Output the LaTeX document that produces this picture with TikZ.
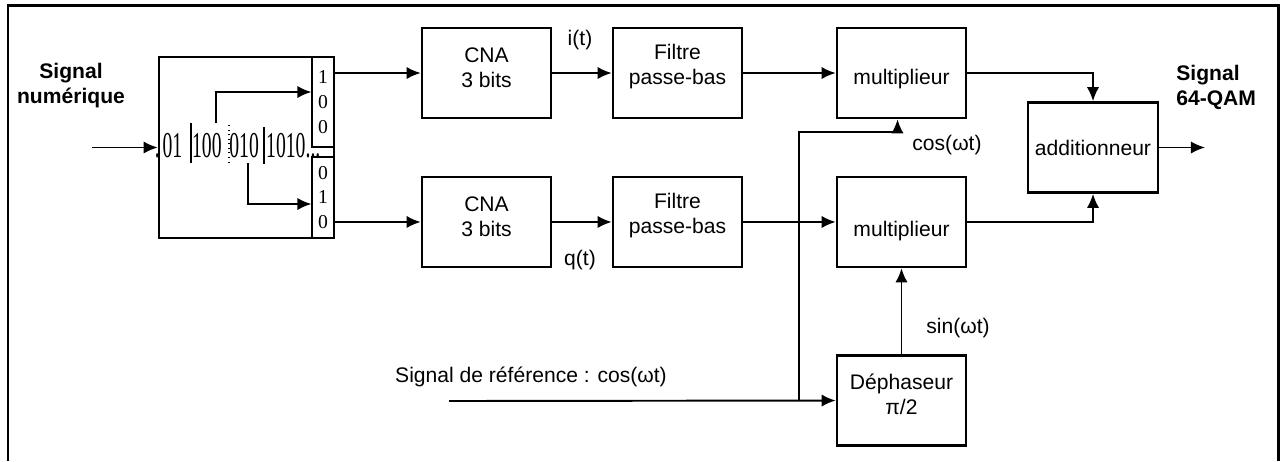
\documentclass[tikz,border=0pt]{standalone}
\usepackage{graphicx}
\usepackage{fontspec}
\setmainfont{Liberation Sans}
\newfontfamily\bitfont{Liberation Serif}
\usetikzlibrary{arrows.meta,positioning}

\begin{document}
\begin{tikzpicture}[x=0.02cm, y=-0.02cm, node distance=2.98cm,
		font=\fontsize{12}{14.2}\selectfont,
		bloc/.style={rectangle,draw,line width=1.5pt,minimum width=2.58cm,minimum height=1.8cm,inner sep=0pt},
		txt/.style={align=center,inner sep=0pt},
		titre/.style={txt,font=\fontsize{12}{14.2}\selectfont\bfseries},
		reg/.style={rectangle,draw,line width=0.6pt,minimum width=0.44cm,inner sep=0pt,align=center,font=\bitfont\fontsize{11.2}{14.2}\selectfont},
		fleche/.style={-{Latex[length=8pt,width=7pt]},line width=1.1pt}]
	\useasboundingbox (0,0) rectangle (1284,461);
	\draw[line width=1.7pt] (8,461) -- (8,5) -- (1278,5) -- (1278,461);
	
	% conversion serie / parallele
	\node[titre] (numerique) at (71,86) {Signal\\numérique};
	\node[reg,minimum height=1.8cm] (regi) at (323,102) {1\\0\\0};
	\node[reg,minimum height=1.62cm] (regii) at (323,197.5) {0\\1\\0};
	\node[rectangle,draw,line width=1.5pt,minimum width=3.5cm,minimum height=3.62cm] (sp) at (246.5,147.5) {};
	\node[anchor=base west,inner sep=0pt,font=\bitfont\fontsize{11.2}{13}\selectfont] (bits) at (154.5,157)
		{\scalebox{1}[1.85]{.\hspace{1.6pt}01\hspace{5.6pt}100\hspace{4.4pt}010\hspace{4.2pt}1010...}};
	\draw[line width=0.6pt] (191,123) -- (191,163);
	\draw[line width=0.6pt,dotted] (229,125) -- (229,163);
	\draw[line width=0.6pt] (264,127) -- (264,164);
	
	% voies I et Q
	\node[bloc,label={[txt,yshift=0.11cm]center:CNA\\3 bits}] (cnai) at (486.5,73) {};
	\node[bloc,below of=cnai,label={[txt,yshift=0.11cm]center:CNA\\3 bits}] (cnaii) {};
	\node[bloc,label={[txt,yshift=0.13cm]center:Filtre\\passe-bas}] (filti) at (677.5,73) {};
	\node[bloc,below of=filti,label={[txt,yshift=0.13cm]center:Filtre\\passe-bas}] (filtii) {};
	\node[bloc,label={[txt,yshift=-0.12cm]center:multiplieur}] (multi) at (901.5,73) {};
	\node[bloc,below of=multi,label={[txt,yshift=-0.19cm]center:multiplieur}] (multii) {};
	\node[bloc,below of=multii,node distance=3.57cm,label={[txt,yshift=0.12cm]center:Déphaseur\\π/2}] (deph) {};
	\node[bloc,minimum width=2.6cm] (add) at (1093,147.5) {additionneur};
	\node[titre,align=left,anchor=west] (qam) at (1176,87.5) {Signal\\64-QAM};
	
	\node (it) at (580,40) {i(t)};
	\node (qt) at (580,260) {q(t)};
	\node (cos) at (947,145) {cos(ωt)};
	\node (sin) at (958,328) {sin(ωt)};
	\node (reflbl) at (531,377) {Signal de référence : cos(ωt)};
	
	\coordinate (depart) at (92,147.5);
	\coordinate (c100) at (216,123);
	\coordinate (c010) at (248,163);
	\coordinate (sortie) at (1205,147.5);
	\coordinate (ref) at (449,401);
	\coordinate (jonc) at (799,401);
	\coordinate (coude) at (799,132);
	
	\draw[fleche] (depart) -- (sp.west);
	\draw[fleche] (c100) |- ([yshift=0.2cm]regi.west);
	\draw[fleche] (c010) |- ([yshift=-0.13cm]regii.west);
	\draw[fleche] (regi.east |- cnai) -- (cnai);
	\draw[fleche] (regii.east |- cnaii) -- (cnaii);
	\draw[fleche] (cnai) -- (filti);
	\draw[fleche] (cnaii) -- (filtii);
	\draw[fleche] (filti) -- (multi);
	\draw[fleche] (filtii) -- (multii);
	\draw[fleche] (multi) -| (add);
	\draw[fleche] (multii) -| (add);
	\draw[fleche] (add) -- (sortie);
	\draw[fleche] (ref) -- (deph);
	\draw[fleche] (jonc) -- (coude) -| ([xshift=-0.08cm]multi.south);
	\draw[fleche] (deph) -- (multii);
\end{tikzpicture}
\end{document}
